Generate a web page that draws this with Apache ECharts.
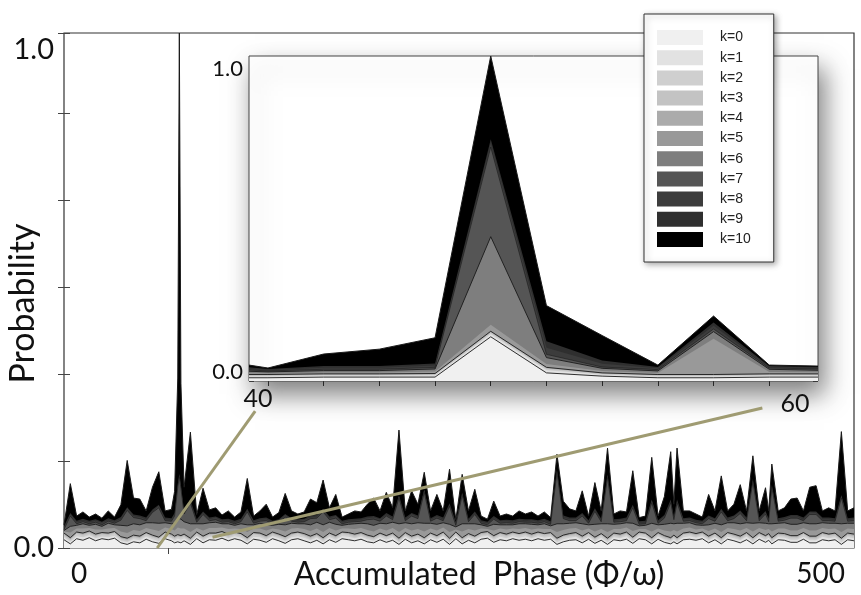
<!DOCTYPE html>
<html>
<head>
<meta charset="utf-8">
<script src="https://cdn.jsdelivr.net/npm/echarts@6/dist/echarts.min.js"></script>
<style>
  html, body { margin: 0; padding: 0; background: #fff; }
  #chart { width: 861px; height: 595px; }
</style>
</head>
<body>
<div id="chart"></div>
<script>
// layer names and greys (k=0 lightest ... k=10 black)
const layerNames = ['k=0', 'k=1', 'k=2', 'k=3', 'k=4', 'k=5', 'k=6', 'k=7', 'k=8', 'k=9', 'k=10'];
const layerColors = ['#f0f0f0', '#e2e2e2', '#cfcfcf', '#c3c3c3', '#ababab', '#999999', '#7e7e7e', '#555555', '#3c3c3c', '#2f2f2f', '#000000'];
// only some layer tops carry a visible outline
const layerOutline = [0.9, 0, 0, 0, 0.9, 0, 0.9, 0.6, 0, 0, 1];

// main panel: accumulated phase, probabilities in thousandths
const mainPhase = [
  0, 4, 8, 12, 16, 20, 24, 28, 32, 36,
  40, 44, 48, 52, 56, 60, 64, 68, 70, 72,
  73, 74, 76, 80, 84, 88, 92, 96, 100, 104,
  108, 112, 116, 120, 124, 128, 132, 136, 140, 144,
  148, 152, 156, 160, 164, 168, 172, 176, 180, 184,
  188, 192, 196, 200, 204, 208, 212, 216, 220, 224,
  228, 232, 236, 240, 244, 248, 252, 256, 260, 264,
  268, 272, 276, 280, 284, 288, 292, 296, 300, 304,
  308, 312, 316, 320, 324, 328, 332, 336, 340, 344,
  348, 352, 356, 360, 364, 368, 372, 376, 380, 384,
  386, 388, 392, 396, 400, 404, 408, 412, 416, 420,
  424, 428, 432, 436, 440, 444, 446, 448, 452, 456,
  460, 464, 468, 472, 476, 480, 484, 488, 492, 496,
  500
];
const mainK0 = [
  16, 8, 18, 15, 20, 14, 18, 16, 19, 10,
  7, 12, 10, 17, 12, 9, 18, 14, 10, 12,
  12, 10, 14, 7, 18, 10, 16, 15, 19, 14,
  18, 15, 8, 17, 15, 11, 18, 14, 9, 16,
  18, 14, 10, 15, 8, 16, 11, 18, 16, 14,
  17, 12, 10, 16, 11, 15, 7, 17, 10, 14,
  8, 16, 11, 17, 7, 18, 8, 15, 10, 17,
  19, 11, 16, 14, 18, 15, 17, 14, 18, 15,
  17, 7, 12, 15, 16, 10, 17, 9, 15, 7,
  16, 14, 17, 9, 18, 16, 8, 17, 11, 8,
  12, 8, 16, 17, 15, 18, 10, 16, 8, 17,
  14, 10, 16, 8, 17, 11, 15, 8, 16, 15,
  11, 11, 17, 10, 10, 16, 14, 16, 7, 16,
  14
];
const mainK1 = [
  5, 4, 5, 6, 5, 5, 4, 5, 5, 4,
  4, 5, 5, 5, 5, 4, 5, 5, 5, 6,
  6, 6, 5, 4, 5, 5, 5, 6, 5, 5,
  5, 5, 4, 5, 6, 5, 5, 5, 5, 5,
  5, 6, 5, 5, 4, 5, 5, 5, 6, 5,
  5, 5, 4, 5, 5, 6, 4, 5, 5, 5,
  4, 5, 5, 6, 4, 5, 4, 5, 5, 5,
  5, 5, 6, 5, 5, 5, 6, 5, 5, 5,
  5, 4, 5, 5, 6, 5, 5, 4, 5, 4,
  5, 5, 6, 4, 5, 5, 4, 5, 5, 4,
  5, 4, 5, 6, 5, 5, 5, 5, 4, 5,
  5, 5, 6, 4, 5, 5, 5, 4, 5, 5,
  5, 5, 5, 5, 5, 6, 5, 5, 4, 5,
  5
];
const mainK2 = [
  3, 3, 4, 3, 2, 3, 3, 3, 4, 3,
  2, 3, 3, 3, 3, 4, 3, 2, 3, 3,
  3, 4, 3, 3, 2, 3, 3, 4, 3, 2,
  3, 3, 3, 4, 3, 3, 2, 3, 3, 3,
  4, 3, 2, 3, 3, 3, 3, 4, 3, 2,
  3, 3, 3, 3, 4, 3, 2, 3, 3, 3,
  3, 4, 3, 2, 3, 3, 3, 3, 4, 3,
  2, 3, 3, 3, 3, 4, 3, 2, 3, 3,
  3, 3, 4, 3, 2, 3, 3, 3, 4, 3,
  3, 2, 3, 3, 3, 4, 3, 3, 2, 3,
  3, 3, 4, 3, 2, 3, 3, 3, 3, 4,
  3, 2, 3, 3, 3, 4, 3, 2, 3, 3,
  3, 3, 4, 3, 2, 3, 3, 3, 4, 3,
  3
];
const mainK3 = [
  2, 2, 2, 2, 3, 2, 3, 2, 2, 2,
  3, 2, 2, 3, 2, 2, 2, 3, 2, 2,
  2, 2, 2, 2, 3, 3, 2, 2, 2, 3,
  2, 3, 2, 2, 2, 2, 3, 2, 3, 2,
  2, 2, 3, 2, 2, 3, 2, 2, 2, 3,
  2, 2, 3, 2, 2, 2, 3, 2, 2, 3,
  2, 2, 2, 3, 2, 3, 2, 2, 2, 2,
  3, 2, 3, 2, 2, 2, 2, 3, 2, 3,
  2, 2, 2, 2, 3, 2, 3, 2, 2, 2,
  2, 3, 2, 3, 2, 2, 2, 2, 3, 2,
  3, 2, 2, 2, 3, 2, 2, 3, 2, 2,
  2, 3, 2, 3, 2, 2, 2, 3, 2, 2,
  3, 2, 2, 2, 3, 2, 3, 2, 2, 2,
  2
];
const mainK4 = [
  3, 3, 2, 3, 3, 3, 2, 3, 2, 3,
  3, 3, 3, 2, 3, 2, 3, 3, 3, 3,
  3, 2, 3, 3, 3, 2, 3, 2, 3, 3,
  3, 2, 3, 2, 3, 3, 3, 3, 2, 3,
  2, 3, 3, 3, 3, 2, 3, 2, 3, 3,
  3, 3, 2, 3, 2, 3, 3, 3, 3, 2,
  3, 2, 3, 3, 3, 2, 3, 3, 2, 3,
  3, 3, 2, 3, 3, 2, 3, 3, 3, 2,
  3, 3, 2, 3, 3, 3, 2, 3, 2, 3,
  3, 3, 3, 2, 3, 2, 3, 3, 3, 3,
  2, 3, 2, 3, 3, 3, 3, 2, 3, 2,
  3, 3, 3, 2, 3, 2, 3, 3, 3, 3,
  2, 3, 2, 3, 3, 3, 2, 3, 2, 3,
  3
];
const mainK5 = [
  3, 10, 7, 9, 6, 9, 6, 9, 7, 10,
  10, 10, 10, 9, 11, 12, 9, 10, 11, 14,
  14, 14, 11, 12, 8, 11, 10, 10, 8, 10,
  7, 9, 11, 8, 9, 10, 7, 9, 10, 9,
  8, 9, 10, 10, 11, 10, 10, 7, 8, 10,
  9, 10, 10, 9, 10, 10, 12, 9, 11, 10,
  12, 9, 10, 9, 12, 5, 12, 9, 11, 8,
  5, 10, 8, 9, 7, 9, 8, 9, 7, 9,
  7, 12, 10, 10, 9, 11, 8, 11, 9, 12,
  8, 10, 9, 12, 6, 8, 12, 8, 10, 12,
  10, 12, 9, 9, 8, 7, 10, 9, 11, 9,
  10, 11, 9, 12, 9, 11, 9, 12, 9, 10,
  10, 10, 9, 11, 11, 9, 10, 9, 12, 9,
  10
];
const mainK6 = [
  2, 12, 6, 9, 5, 10, 6, 10, 6, 12,
  14, 12, 12, 10, 13, 15, 9, 10, 13, 18,
  18, 18, 13, 16, 8, 13, 10, 11, 7, 10,
  6, 10, 14, 7, 10, 11, 6, 10, 13, 10,
  8, 10, 12, 12, 14, 11, 12, 6, 8, 10,
  9, 12, 12, 10, 13, 11, 16, 10, 13, 12,
  16, 10, 12, 9, 15, 5, 15, 10, 13, 7,
  5, 12, 7, 9, 7, 10, 8, 10, 7, 10,
  6, 16, 12, 10, 10, 13, 7, 14, 10, 16,
  9, 10, 9, 15, 6, 7, 16, 7, 12, 16,
  12, 16, 10, 9, 9, 6, 12, 10, 14, 10,
  12, 13, 10, 16, 10, 13, 10, 15, 10, 11,
  12, 12, 10, 13, 13, 10, 11, 10, 16, 10,
  11
];
const mainK7 = [
  2, 20, 3, 4, 3, 4, 3, 4, 3, 10,
  30, 12, 12, 4, 20, 30, 4, 5, 15, 60,
  80, 60, 15, 40, 3, 18, 4, 5, 3, 4,
  3, 4, 25, 3, 4, 8, 3, 4, 15, 4,
  3, 4, 12, 8, 25, 5, 12, 3, 4, 4,
  4, 8, 12, 4, 15, 5, 50, 4, 15, 8,
  60, 4, 12, 4, 35, 3, 55, 4, 18, 3,
  3, 10, 3, 4, 3, 4, 3, 4, 3, 4,
  3, 100, 10, 5, 4, 15, 3, 25, 4, 90,
  4, 4, 4, 30, 3, 3, 40, 3, 12, 40,
  8, 40, 4, 4, 4, 3, 12, 4, 25, 4,
  8, 20, 4, 80, 4, 18, 4, 70, 4, 5,
  12, 12, 4, 18, 18, 4, 5, 4, 50, 4,
  5
];
const mainK8 = [
  3, 4, 3, 2, 3, 3, 4, 2, 3, 3,
  4, 3, 3, 3, 2, 4, 3, 3, 2, 3,
  3, 3, 4, 2, 3, 3, 3, 4, 3, 2,
  2, 3, 3, 4, 3, 3, 2, 3, 4, 3,
  3, 4, 2, 3, 3, 3, 4, 3, 3, 2,
  3, 3, 3, 4, 2, 3, 3, 2, 4, 3,
  4, 3, 3, 2, 3, 4, 3, 3, 2, 3,
  3, 2, 4, 3, 3, 3, 2, 4, 3, 3,
  3, 3, 2, 3, 4, 3, 3, 3, 2, 4,
  2, 4, 3, 3, 3, 2, 4, 3, 3, 3,
  3, 3, 4, 3, 2, 3, 3, 4, 3, 3,
  4, 3, 3, 2, 3, 3, 4, 3, 2, 3,
  3, 3, 2, 4, 3, 3, 3, 2, 4, 3,
  3
];
const mainK9 = [
  3, 2, 3, 4, 3, 3, 2, 4, 3, 3,
  2, 3, 3, 3, 4, 2, 3, 3, 4, 3,
  3, 3, 2, 4, 3, 3, 3, 2, 3, 4,
  4, 3, 3, 2, 3, 3, 4, 3, 2, 3,
  3, 2, 4, 3, 3, 3, 2, 3, 3, 4,
  3, 3, 3, 2, 4, 3, 3, 4, 2, 3,
  2, 3, 3, 4, 3, 2, 3, 3, 4, 3,
  3, 4, 2, 3, 3, 3, 4, 2, 3, 3,
  3, 3, 4, 3, 2, 3, 3, 3, 4, 2,
  4, 2, 3, 3, 3, 4, 2, 3, 3, 3,
  3, 3, 2, 3, 4, 3, 3, 2, 3, 3,
  2, 3, 3, 4, 3, 3, 2, 3, 4, 3,
  3, 3, 4, 2, 3, 3, 3, 4, 2, 3,
  3
];
const mainK10 = [
  3, 57, 9, 13, 7, 10, 7, 14, 6, 24,
  91, 32, 32, 13, 43, 64, 13, 17, 42, 206,
  856, 198, 46, 132, 9, 45, 15, 17, 8, 15,
  7, 13, 59, 8, 14, 26, 7, 13, 40, 14,
  10, 13, 32, 24, 56, 17, 40, 7, 10, 15,
  12, 24, 35, 14, 40, 17, 126, 13, 43, 22,
  33, 14, 40, 13, 66, 5, 35, 15, 43, 8,
  5, 29, 8, 11, 8, 15, 10, 14, 8, 13,
  7, 29, 28, 17, 13, 43, 8, 50, 15, 51,
  10, 15, 11, 66, 7, 9, 82, 8, 36, 93,
  24, 100, 14, 13, 11, 7, 41, 14, 64, 13,
  22, 50, 13, 45, 13, 45, 15, 40, 14, 18,
  31, 33, 13, 47, 50, 13, 19, 14, 123, 14,
  19
];

// inset panel: phase 40..60 zoom, probabilities in thousandths
const insetPhase = [39.32, 40, 42, 44, 46, 48, 50, 52, 54, 56, 58, 59.75];
const insetK0 = [10, 10, 12, 12, 12, 136, 25, 15, 10, 10, 12, 12];
const insetK1 = [4, 4, 4, 4, 5, 8, 8, 4, 4, 4, 4, 4];
const insetK2 = [2, 2, 2, 2, 2, 3, 3, 2, 2, 2, 2, 2];
const insetK3 = [2, 2, 2, 2, 2, 3, 3, 2, 2, 2, 2, 2];
const insetK4 = [2, 2, 2, 2, 2, 3, 3, 2, 2, 2, 2, 2];
const insetK5 = [4, 3, 4, 4, 6, 20, 10, 6, 5, 110, 6, 5];
const insetK6 = [6, 5, 6, 6, 8, 271, 20, 8, 6, 22, 8, 6];
const insetK7 = [4, 3, 4, 4, 5, 276, 10, 4, 4, 8, 4, 4];
const insetK8 = [4, 3, 5, 5, 6, 12, 20, 10, 4, 10, 3, 3];
const insetK9 = [4, 3, 5, 5, 6, 12, 20, 10, 4, 10, 3, 3];
const insetK10 = [7, 3, 37, 52, 79, 256, 110, 77, 6, 20, 3, 3];

// zoom connector lines (main-panel data units)
const connectorFrom = [[59, 0.0], [94, 0.021]];
const connectorTo = [[121, 0.266], [442, 0.272]];

const mainLayers = [mainK0, mainK1, mainK2, mainK3, mainK4, mainK5, mainK6, mainK7, mainK8, mainK9, mainK10];
const insetLayers = [insetK0, insetK1, insetK2, insetK3, insetK4, insetK5, insetK6, insetK7, insetK8, insetK9, insetK10];

const labelFont = 'Lato, "Open Sans", sans-serif';

// running totals, so each layer's area can be filled from zero (value axes on both sides
// make echarts stack along x, so the stacking is done here)
function cumulate(layers) {
  let out = [];
  let run = layers[0].map(() => 0);
  layers.forEach(arr => {
    run = run.map((r, i) => r + arr[i] / 1000);
    out.push(run);
  });
  return out;
}

function layerSeries(k, phase, tops, axisIdx) {
  return {
    name: layerNames[k],
    type: 'line',
    xAxisIndex: axisIdx,
    yAxisIndex: axisIdx,
    symbol: 'none',
    data: phase.map((x, i) => [x, tops[i]]),
    lineStyle: { color: '#1a1a1a', width: layerOutline[k], opacity: layerOutline[k] ? 1 : 0 },
    itemStyle: { color: layerColors[k] },
    areaStyle: { color: layerColors[k], opacity: 1, origin: 'start' },
    emphasis: { disabled: true },
    z: 2
  };
}

const mainTops = cumulate(mainLayers);
const insetTops = cumulate(insetLayers);

let series = [];
// top layer first, lighter layers painted over it
for (let k = layerNames.length - 1; k >= 0; k--) {
  series.push(layerSeries(k, mainPhase, mainTops[k], 0));
}
for (let k = layerNames.length - 1; k >= 0; k--) {
  series.push(layerSeries(k, insetPhase, insetTops[k], 2));
}
series.push({
  type: 'lines',
  coordinateSystem: 'cartesian2d',
  xAxisIndex: 0,
  yAxisIndex: 0,
  silent: true,
  z: 6,
  data: connectorFrom.map((p, i) => ({ coords: [p, connectorTo[i]] })),
  lineStyle: { color: '#9f9b72', width: 3, opacity: 1 }
});

const tickStyle = { show: true, inside: true, length: 6, lineStyle: { color: '#444', width: 1 } };
const insetTicks = [40, 42, 44, 46, 48, 50, 52, 54, 56, 58];

let option = {
  animation: false,
  backgroundColor: '#ffffff',
  grid: [
    { left: 64, right: 7, top: 33, bottom: 47, containLabel: false, outerBoundsMode: 'none',
      show: true, borderColor: '#333', borderWidth: 1.2, backgroundColor: 'transparent', z: 0 },
    { left: 249, right: 43, top: 56, bottom: 214, containLabel: false, outerBoundsMode: 'none',
      show: true, borderColor: '#444', borderWidth: 1,
      backgroundColor: '#ffffff', shadowBlur: 24, shadowColor: 'rgba(0,0,0,0.5)', shadowOffsetX: 6, shadowOffsetY: 13, z: 1 }
  ],
  xAxis: [
    { type: 'value', gridIndex: 0, min: 0, max: 500,
      axisLine: { show: false }, axisTick: { show: false }, splitLine: { show: false },
      axisLabel: { customValues: [0, 500], margin: 12, color: '#111', fontSize: 28, fontFamily: labelFont,
        alignMinLabel: 'left', alignMaxLabel: 'right',
        formatter: v => v === 0 ? '{l|0}' : '{r|500}',
        rich: { l: { fontSize: 28, fontFamily: labelFont, color: '#111', padding: [0, 0, 0, 7] },
                r: { fontSize: 28, fontFamily: labelFont, color: '#111', padding: [0, 9, 0, 0] } } },
      name: 'Accumulated  Phase (Φ/ω)', nameLocation: 'middle', nameGap: 11, nameMoveOverlap: false,
      nameTextStyle: { fontSize: 32, fontFamily: labelFont, color: '#111', verticalAlign: 'top', padding: [0, 0, 0, 40] } },
    { type: 'value', gridIndex: 0, min: 0, max: 500, position: 'top',
      axisLine: { show: false }, splitLine: { show: false }, axisLabel: { show: false },
      axisTick: Object.assign({ customValues: [66] }, tickStyle) },
    { type: 'value', gridIndex: 1, min: 39.32, max: 59.75,
      axisLine: { show: false }, splitLine: { show: false }, axisLabel: { show: false },
      axisTick: Object.assign({ customValues: insetTicks }, tickStyle, { length: 5 }) },
    { type: 'value', gridIndex: 1, min: 39.32, max: 59.75, position: 'top',
      axisLine: { show: false }, splitLine: { show: false }, axisLabel: { show: false },
      axisTick: Object.assign({ customValues: insetTicks }, tickStyle, { length: 5 }) }
  ],
  yAxis: [
    { type: 'value', gridIndex: 0, min: 0, max: 1, interval: 0.169,
      axisLine: { show: false }, splitLine: { show: false }, axisTick: tickStyle,
      axisLabel: { margin: 10, color: '#111', fontSize: 29, fontFamily: labelFont, showMaxLabel: true,
        formatter: v => v === 0 ? '0.0' : (v === 1 ? '{t|1.0}' : ''),
        rich: { t: { fontSize: 29, fontFamily: labelFont, color: '#111', padding: [34, 0, 0, 0] } } },
      name: 'Probability', nameLocation: 'middle', nameGap: 24, nameMoveOverlap: false,
      nameTextStyle: { fontSize: 34, fontFamily: labelFont, color: '#111', padding: [0, 26, 0, 0] } },
    { type: 'value', gridIndex: 0, min: 0, max: 1, interval: 0.169, position: 'right',
      axisLine: { show: false }, splitLine: { show: false }, axisLabel: { show: false }, axisTick: tickStyle },
    { type: 'value', gridIndex: 1, min: 0, max: 1, interval: 0.146,
      axisLine: { show: false }, splitLine: { show: false }, axisTick: Object.assign({}, tickStyle, { length: 5 }),
      axisLabel: { margin: 6, color: '#111', fontSize: 22, fontFamily: labelFont, showMaxLabel: true,
        formatter: v => v === 0 ? '{b|0.0}' : (v === 1 ? '{t|1.0}' : ''),
        rich: { t: { fontSize: 22, fontFamily: labelFont, color: '#111', padding: [26, 0, 0, 0] },
                b: { fontSize: 22, fontFamily: labelFont, color: '#111', padding: [0, 0, 18, 0] } } } },
    { type: 'value', gridIndex: 1, min: 0, max: 1, interval: 0.146, position: 'right',
      axisLine: { show: false }, splitLine: { show: false }, axisLabel: { show: false },
      axisTick: Object.assign({}, tickStyle, { length: 5 }) }
  ],
  legend: {
    data: layerNames,
    orient: 'vertical',
    left: 644,
    top: 14,
    padding: [16, 23, 15, 13],
    icon: 'rect',
    itemWidth: 46,
    itemHeight: 15,
    itemGap: 5.2,
    itemStyle: { borderWidth: 0 },
    backgroundColor: '#ffffff',
    borderColor: '#333',
    borderWidth: 1,
    shadowBlur: 6,
    shadowColor: 'rgba(0,0,0,0.35)',
    shadowOffsetX: 2,
    shadowOffsetY: 2,
    textStyle: { fontSize: 14, fontFamily: '"Liberation Sans", Arial, sans-serif', color: '#222', padding: [0, 0, 0, 12] },
    selectedMode: false,
    z: 20
  },
  graphic: [
    { type: 'text', z: 30, style: { text: '40', x: 258, y: 399, align: 'center', verticalAlign: 'middle', fontSize: 25, fontFamily: labelFont, fill: '#111' } },
    { type: 'text', z: 30, style: { text: '60', x: 795, y: 404, align: 'center', verticalAlign: 'middle', fontSize: 25, fontFamily: labelFont, fill: '#111' } }
  ],
  series: series
};

let chart = echarts.init(document.getElementById('chart'), null, { renderer: 'canvas' });
chart.setOption(option);
</script>
</body>
</html>
